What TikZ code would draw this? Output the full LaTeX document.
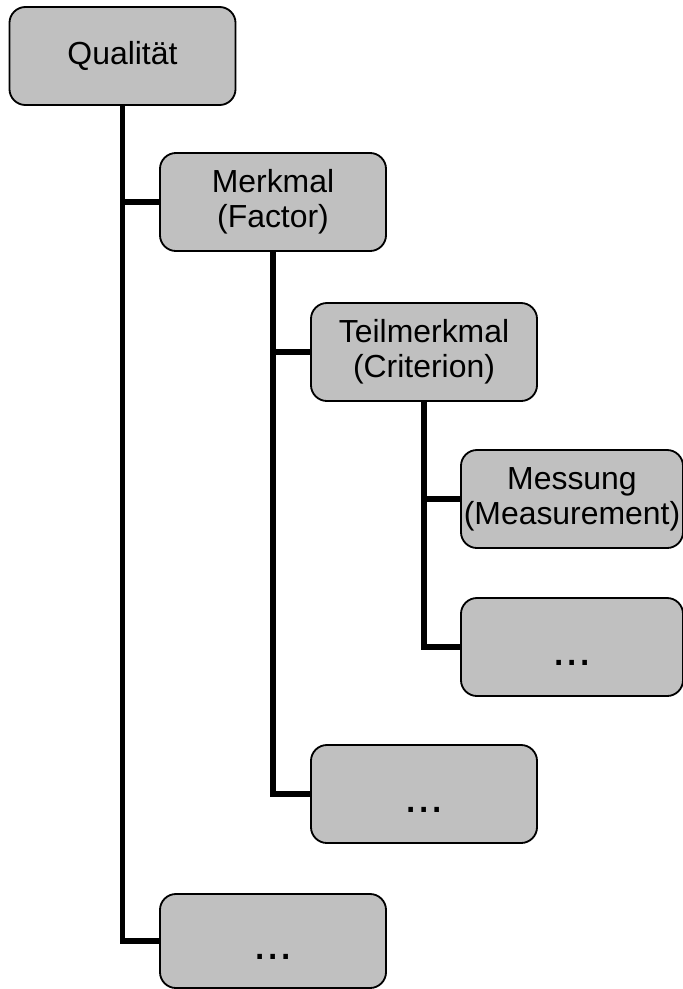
\documentclass[tikz,border=0pt]{standalone}
\usepackage{fontspec}
\setmainfont{Liberation Sans}
\usetikzlibrary{positioning}
\definecolor{kastengrau}{RGB}{192,192,192}

\begin{document}
\begin{tikzpicture}[x=0.025cm, y=-0.025cm,
	kasten/.style={draw, line width=1.3pt, rounded corners=0.4cm, fill=kastengrau, minimum width=5.65cm, minimum height=2.45cm, align=center, inner sep=0pt, font=\fontsize{22.7}{25}\selectfont},
	punkte/.style={text height=0.9cm, text depth=0pt, font=\fontsize{34}{40}\selectfont},
	ast/.style={line width=3.6pt}]
	\useasboundingbox (0,0) rectangle (683,989);
	\node at (122.5,56) [kasten] (quali) {Qualität};
	\node at (273,202) [kasten] (merkmal) {Merkmal\\(Factor)};
	\node at (424,352) [kasten] (teilm) {Teilmerkmal\\(Criterion)};
	\node at (572,499) [kasten, minimum width=5.55cm] (messung) {Messung\\(Measurement)};
	\node at (572,647) [kasten, minimum width=5.55cm, punkte] (punkteT) {...};
	\node at (424,794) [kasten, punkte] (punkteM) {...};
	\node at (273,941) [kasten, minimum height=2.35cm, punkte] (punkteQ) {...};
	% Verbindungen
	\draw[ast] (quali.south) |- (merkmal.west);
	\draw[ast] (quali.south) |- (punkteQ.west);
	\draw[ast] (merkmal.south) |- (teilm.west);
	\draw[ast] (merkmal.south) |- (punkteM.west);
	\draw[ast] (teilm.south) |- (messung.west);
	\draw[ast] (teilm.south) |- (punkteT.west);
\end{tikzpicture}
\end{document}
